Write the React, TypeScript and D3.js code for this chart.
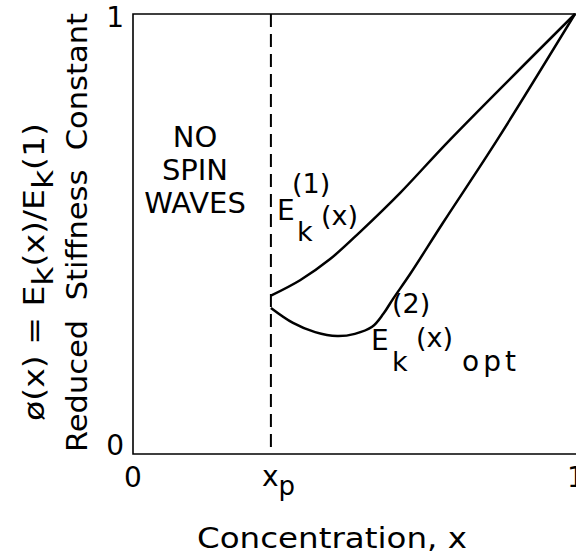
import React from "react";
import * as d3 from "d3";

const W = 576;
const H = 556;

// Concentration axis values (fraction) and reduced stiffness values
const xp = 0.312;
const e1X = [0.312, 0.378, 0.446, 0.514, 0.604, 0.717, 1.0];
const e1Y = [0.36, 0.395, 0.443, 0.505, 0.593, 0.714, 1.0];
const e2X = [0.312, 0.362, 0.412, 0.462, 0.502, 0.541, 0.566, 0.588, 0.627, 0.701, 0.824, 1.0];
const e2Y = [0.332, 0.298, 0.277, 0.268, 0.273, 0.289, 0.318, 0.352, 0.409, 0.525, 0.714, 1.0];
const noSpinLines = ["NO", "SPIN", "WAVES"];

const FONT = "'DejaVu Sans', sans-serif";

export default function App() {
  const x = d3.scaleLinear().domain([0, 1]).range([133, 575]);
  const y = d3.scaleLinear().domain([0, 1]).range([454, 14]);

  const line = d3
    .line<[number, number]>()
    .x((d) => x(d[0]))
    .y((d) => y(d[1]))
    .curve(d3.curveCatmullRom.alpha(0.5));

  const e1 = e1X.map((v, i) => [v, e1Y[i]] as [number, number]);
  const e2 = e2X.map((v, i) => [v, e2Y[i]] as [number, number]);

  return (
    <svg
      width={W}
      height={H}
      style={{ position: "absolute", left: 0, top: 0, background: "#fff" }}
      fontFamily={FONT}
    >
      <rect x={0} y={0} width={W} height={H} fill="#fff" />
      {/* frame */}
      <path
        d={`M${x(1) + 2},${y(1)} H${x(0)} V${y(0)} H${x(1) + 2}`}
        fill="none"
        stroke="#000"
        strokeWidth={1.6}
      />
      {/* xp dashed line */}
      <line
        x1={x(xp)}
        x2={x(xp)}
        y1={y(1)}
        y2={y(0)}
        stroke="#000"
        strokeWidth={2}
        strokeDasharray="13,7"
      />
      {/* curves */}
      <path d={line(e1) || ""} fill="none" stroke="#000" strokeWidth={2.5} />
      <path d={line(e2) || ""} fill="none" stroke="#000" strokeWidth={2.5} />

      {/* y ticks */}
      <text x={124} y={27} fontSize={28} textAnchor="end">1</text>
      <text x={124} y={455} fontSize={28} textAnchor="end">0</text>
      {/* x ticks */}
      <text x={x(0)} y={487} fontSize={28} textAnchor="middle">0</text>
      <text x={262} y={486} fontSize={28}>
        x<tspan fontSize={26} dy={9}>p</tspan>
      </text>
      <text x={x(1) + 1} y={487} fontSize={28} textAnchor="middle">1</text>

      {/* x axis title */}
      <text x={197} y={548} fontSize={28} textLength={270} lengthAdjust="spacingAndGlyphs">
        Concentration, x
      </text>

      {/* y axis titles */}
      <text
        transform="translate(87,452) rotate(-90)"
        fontSize={28}
        textLength={439}
        lengthAdjust="spacingAndGlyphs"
        xmlSpace="preserve"
      >
        Reduced  Stiffness  Constant
      </text>
      <text
        transform="translate(44,421) rotate(-90)"
        fontSize={29}
        textLength={298}
        lengthAdjust="spacingAndGlyphs"
        xmlSpace="preserve"
      >
        ø(x) = E<tspan dy={9}>k</tspan><tspan dy={-9}>(x)/E</tspan><tspan dy={9}>k</tspan><tspan dy={-9}>(1)</tspan>
      </text>

      {/* NO SPIN WAVES */}
      {noSpinLines.map((t, i) => (
        <text key={t} x={195} y={147 + i * 33} fontSize={29} textAnchor="middle">
          {t}
        </text>
      ))}

      {/* E_k^(1)(x) */}
      <text x={277} y={220} fontSize={28}>E</text>
      <text x={292} y={193} fontSize={27}>(1)</text>
      <text x={297} y={241} fontSize={27}>k</text>
      <text x={321} y={225} fontSize={27}>(x)</text>

      {/* E_k^(2)(x)_opt */}
      <text x={371} y={350} fontSize={28}>E</text>
      <text x={392} y={313} fontSize={27}>(2)</text>
      <text x={392} y={371} fontSize={27}>k</text>
      <text x={416} y={347} fontSize={27}>(x)</text>
      <text x={462} y={371} fontSize={28} letterSpacing={4}>opt</text>
    </svg>
  );
}
